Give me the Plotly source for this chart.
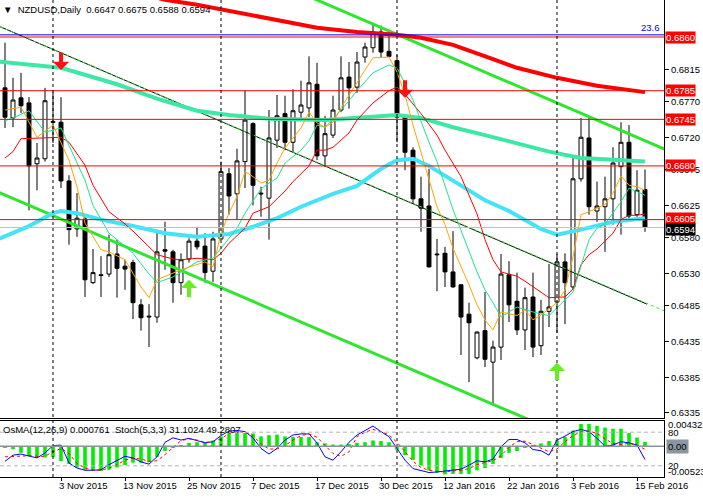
import plotly.graph_objects as go

# daily bars 23 Oct 2015 .. 16 Feb 2016, plotted by bar number
bars = list(range(81))
opens = [0.6789, 0.6747, 0.6775, 0.6768, 0.6683, 0.6690, 0.6742, 0.6741, 0.6659, 0.6592,
         0.6606, 0.6517, 0.6528, 0.6529, 0.6557, 0.6540, 0.6545, 0.6486, 0.6469, 0.6469,
         0.6563, 0.6560, 0.6517, 0.6550, 0.6575, 0.6568, 0.6533, 0.6578, 0.6669, 0.6641,
         0.6686, 0.6739, 0.6642, 0.6635, 0.6716, 0.6753, 0.6713, 0.6755, 0.6761, 0.6794,
         0.6694, 0.6723, 0.6758, 0.6804, 0.6790, 0.6832, 0.6845, 0.6867, 0.6840, 0.6827,
         0.6750, 0.6702, 0.6634, 0.6624, 0.6557, 0.6558, 0.6532, 0.6514, 0.6473, 0.6412,
         0.6450, 0.6406, 0.6427, 0.6528, 0.6491, 0.6451, 0.6497, 0.6429, 0.6477, 0.6490,
         0.6546, 0.6511, 0.6662, 0.6719, 0.6617, 0.6623, 0.6634, 0.6679, 0.6713, 0.6612,
         0.6647]
highs = [0.6852, 0.6803, 0.6810, 0.6776, 0.6712, 0.6789, 0.6783, 0.6776, 0.6667, 0.6642,
         0.6609, 0.6564, 0.6554, 0.6584, 0.6577, 0.6549, 0.6549, 0.6494, 0.6487, 0.6591,
         0.6602, 0.6563, 0.6558, 0.6579, 0.6595, 0.6586, 0.6588, 0.6686, 0.6677, 0.6704,
         0.6785, 0.6741, 0.6651, 0.6758, 0.6779, 0.6778, 0.6787, 0.6799, 0.6833, 0.6824,
         0.6750, 0.6778, 0.6833, 0.6825, 0.6839, 0.6852, 0.6880, 0.6876, 0.6870, 0.6835,
         0.6751, 0.6706, 0.6665, 0.6676, 0.6578, 0.6567, 0.6589, 0.6515, 0.6489, 0.6449,
         0.6504, 0.6436, 0.6557, 0.6547, 0.6531, 0.6510, 0.6531, 0.6493, 0.6543, 0.6557,
         0.6558, 0.6695, 0.6747, 0.6747, 0.6658, 0.6665, 0.6706, 0.6741, 0.6737, 0.6674,
         0.6675]
lows = [0.6733, 0.6734, 0.6754, 0.6618, 0.6646, 0.6686, 0.6712, 0.6649, 0.6570, 0.6581,
        0.6497, 0.6515, 0.6497, 0.6525, 0.6496, 0.6507, 0.6466, 0.6450, 0.6427, 0.6461,
        0.6535, 0.6489, 0.6500, 0.6545, 0.6563, 0.6517, 0.6518, 0.6577, 0.6612, 0.6605,
        0.6649, 0.6625, 0.6609, 0.6577, 0.6705, 0.6702, 0.6699, 0.6747, 0.6748, 0.6688,
        0.6679, 0.6719, 0.6755, 0.6760, 0.6782, 0.6824, 0.6838, 0.6831, 0.6832, 0.6713,
        0.6674, 0.6627, 0.6588, 0.6538, 0.6505, 0.6511, 0.6510, 0.6416, 0.6378, 0.6410,
        0.6399, 0.6348, 0.6409, 0.6462, 0.6444, 0.6423, 0.6413, 0.6416, 0.6455, 0.6447,
        0.6459, 0.6507, 0.6658, 0.6612, 0.6602, 0.6560, 0.6598, 0.6584, 0.6605, 0.6609,
        0.6588]
closes = [0.6748, 0.6772, 0.6764, 0.6680, 0.6691, 0.6771, 0.6741, 0.6659, 0.6591, 0.6607,
          0.6521, 0.6531, 0.6527, 0.6556, 0.6537, 0.6536, 0.6489, 0.6468, 0.6470, 0.6560,
          0.6561, 0.6517, 0.6549, 0.6575, 0.6567, 0.6531, 0.6578, 0.6672, 0.6638, 0.6687,
          0.6744, 0.6653, 0.6641, 0.6719, 0.6750, 0.6713, 0.6757, 0.6765, 0.6796, 0.6694,
          0.6725, 0.6758, 0.6803, 0.6789, 0.6825, 0.6846, 0.6867, 0.6839, 0.6833, 0.6748,
          0.6699, 0.6634, 0.6621, 0.6539, 0.6556, 0.6532, 0.6511, 0.6469, 0.6461, 0.6448,
          0.6410, 0.6427, 0.6529, 0.6486, 0.6451, 0.6496, 0.6427, 0.6477, 0.6483, 0.6546,
          0.6517, 0.6662, 0.6720, 0.6623, 0.6624, 0.6634, 0.6684, 0.6713, 0.6610, 0.6646,
          0.6594]

# moving averages (bar number, price)
ma_slow_x = [14, 20, 24, 29, 34, 39, 44, 49, 52, 56, 61, 64, 69, 74, 80]
ma_slow_y = [0.6929, 0.6912, 0.6905, 0.6894, 0.6884, 0.6873, 0.6867, 0.6863, 0.6859, 0.6849,
             0.6829, 0.6817, 0.6803, 0.6792, 0.6783]
ma_mid_x = [-1, 0, 7, 14, 19, 24, 28, 33, 40, 45, 49, 52, 56, 60, 64, 68, 72, 76, 80]
ma_mid_y = [0.6826, 0.6825, 0.6817, 0.6794, 0.6774, 0.6757, 0.6751, 0.6746, 0.6744, 0.6748,
            0.6751, 0.6747, 0.6734, 0.6723, 0.6712, 0.6700, 0.6691, 0.6688, 0.6686]
ma_50_x = [-1, 3, 6, 7, 9, 12, 16, 20, 24, 28, 31, 34, 37, 41, 44, 47, 49, 51, 53, 56, 60,
           63, 67, 69, 72, 76, 80]
ma_50_y = [0.6577, 0.6596, 0.6614, 0.6617, 0.6614, 0.6605, 0.6596, 0.6586, 0.6581, 0.6585,
           0.6595, 0.6607, 0.6623, 0.6641, 0.6652, 0.6676, 0.6688, 0.6690, 0.6680, 0.6660,
           0.6632, 0.6617, 0.6592, 0.6584, 0.6591, 0.6602, 0.6607]
fast_x = [0, 2, 4, 6, 8, 9, 10, 12, 13, 15, 17, 18, 19, 21, 22, 25, 26, 27, 28, 29, 30, 31,
          32, 33, 34, 35, 36, 37, 38, 39, 40, 41, 42, 43, 45, 46, 48, 49, 50, 51, 53, 54, 55,
          56, 58, 59, 60, 61, 62, 64, 65, 66, 67, 69, 70, 71, 72, 73, 75, 76, 77, 78, 79, 80]
fast_y = [0.6758, 0.6762, 0.6720, 0.6737, 0.6688, 0.6651, 0.6600, 0.6563, 0.6560, 0.6549,
          0.6511, 0.6496, 0.6521, 0.6531, 0.6535, 0.6546, 0.6539, 0.6586, 0.6614, 0.6637,
          0.6672, 0.6665, 0.6656, 0.6660, 0.6684, 0.6705, 0.6719, 0.6733, 0.6755, 0.6740,
          0.6734, 0.6741, 0.6761, 0.6779, 0.6814, 0.6831, 0.6832, 0.6811, 0.6779, 0.6737,
          0.6660, 0.6623, 0.6598, 0.6565, 0.6514, 0.6486, 0.6465, 0.6451, 0.6476, 0.6471,
          0.6479, 0.6465, 0.6472, 0.6489, 0.6507, 0.6553, 0.6612, 0.6616, 0.6626, 0.6642,
          0.6666, 0.6653, 0.6651, 0.6646]
med_x = [0, 1, 3, 5, 7, 8, 10, 11, 13, 14, 16, 18, 19, 21, 22, 24, 26, 28, 29, 30, 32, 33,
         34, 35, 37, 38, 39, 40, 41, 43, 44, 46, 48, 49, 50, 51, 53, 54, 56, 58, 59, 60, 61,
         62, 64, 66, 68, 69, 70, 71, 72, 73, 74, 75, 77, 78, 79, 80]
med_y = [0.6743, 0.6747, 0.6757, 0.6727, 0.6733, 0.6709, 0.6660, 0.6625, 0.6586, 0.6577,
         0.6558, 0.6529, 0.6517, 0.6525, 0.6532, 0.6546, 0.6551, 0.6579, 0.6593, 0.6614,
         0.6648, 0.6656, 0.6663, 0.6684, 0.6702, 0.6715, 0.6737, 0.6734, 0.6745, 0.6771,
         0.6785, 0.6810, 0.6821, 0.6817, 0.6794, 0.6772, 0.6713, 0.6686, 0.6619, 0.6560,
         0.6532, 0.6507, 0.6489, 0.6469, 0.6483, 0.6476, 0.6471, 0.6482, 0.6493, 0.6504,
         0.6540, 0.6577, 0.6593, 0.6599, 0.6630, 0.6649, 0.6644, 0.6639]
slow_x = [0, 1, 2, 4, 6, 7, 8, 10, 11, 13, 15, 16, 18, 19, 21, 22, 24, 26, 27, 28, 30, 31,
          33, 35, 36, 38, 39, 40, 41, 43, 44, 46, 48, 49, 50, 52, 54, 55, 57, 58, 59, 60, 61,
          62, 64, 65, 67, 68, 70, 71, 72, 73, 74, 76, 77, 78, 79, 80]
slow_y = [0.6691, 0.6700, 0.6718, 0.6719, 0.6719, 0.6720, 0.6713, 0.6681, 0.6653, 0.6616,
          0.6599, 0.6589, 0.6567, 0.6556, 0.6550, 0.6549, 0.6551, 0.6549, 0.6558, 0.6572,
          0.6593, 0.6614, 0.6623, 0.6645, 0.6658, 0.6680, 0.6702, 0.6702, 0.6706, 0.6726,
          0.6744, 0.6768, 0.6785, 0.6790, 0.6780, 0.6753, 0.6723, 0.6702, 0.6665, 0.6639,
          0.6613, 0.6577, 0.6549, 0.6532, 0.6526, 0.6519, 0.6503, 0.6496, 0.6497, 0.6508,
          0.6542, 0.6556, 0.6564, 0.6586, 0.6605, 0.6611, 0.6611, 0.6613]

# trend channel end points (bar number, price)
channel_low = ([-2, 70], [0.6649, 0.6304])
channel_high = ([36, 84], [0.6926, 0.6696])
mid_trend = ([-2, 80.25], [0.6881, 0.6487])
mid_trend_dots = ([-2, 84], [0.6881, 0.6470])

# horizontal levels
red_levels = [0.6860, 0.6785, 0.6745, 0.6680, 0.6605]
fibo_level = 0.6863
bid_price = 0.6594

# signal arrows: bar number, tip price
sell_arrows = ([7, 50], [0.6814, 0.6775])
buy_arrows = ([23, 69], [0.6521, 0.6405])

# month separators (first bar of Nov, Dec, Jan, Feb)
separators = [6, 27, 49, 69]

# oscillators
osma = [-0.0002, -0.0005, -0.0011, -0.0017, -0.0019, -0.0019, -0.0018, -0.0025, -0.0030, -0.0036,
        -0.0040, -0.0042, -0.0042, -0.0040, -0.0036, -0.0032, -0.0028, -0.0028, -0.0027, -0.0018,
        -0.0008, -0.0003, 0.0001, 0.0006, 0.0007, 0.0007, 0.0010, 0.0017, 0.0022, 0.0023,
        0.0023, 0.0022, 0.0017, 0.0019, 0.0020, 0.0017, 0.0016, 0.0016, 0.0016, 0.0007,
        0.0005, 0.0003, 0.0003, 0.0004, 0.0006, 0.0007, 0.0010, 0.0009, 0.0007, -0.0006,
        -0.0015, -0.0023, -0.0032, -0.0041, -0.0045, -0.0048, -0.0047, -0.0047, -0.0047, -0.0041,
        -0.0037, -0.0030, -0.0020, -0.0011, -0.0008, -0.0002, 0.0001, 0.0005, 0.0009, 0.0010,
        0.0016, 0.0027, 0.0038, 0.0038, 0.0035, 0.0032, 0.0030, 0.0030, 0.0023, 0.0015,
        0.000761]
stoch_main = [28, 39, 41, 37, 34, 43, 56, 57, 25, 16, 12, 12, 13, 22, 30, 37, 34, 27, 23, 36,
              62, 70, 66, 69, 65, 61, 63, 74, 82, 83, 81, 70, 51, 41, 51, 66, 75, 77, 77, 61,
              36, 30, 45, 62, 75, 83, 91, 81, 72, 51, 30, 15, 11, 8, 9, 11, 12, 14, 21, 29,
              27, 32, 54, 67, 67, 61, 49, 47, 39, 66, 73, 81, 85, 81, 69, 55, 57, 63, 61, 57,
              31.1]
stoch_signal = [36, 37, 38, 38, 37, 37, 45, 51, 42, 24, 16, 12, 12, 16, 22, 30, 34, 32, 28, 29,
                40, 53, 65, 68, 66, 62, 63, 68, 78, 81, 80, 74, 59, 50, 50, 56, 66, 74, 77, 71,
                56, 42, 37, 45, 72, 80, 85, 81, 75, 62, 45, 28, 17, 12, 10, 9, 11, 12, 15, 22,
                26, 29, 38, 53, 63, 64, 58, 52, 45, 50, 63, 74, 81, 82, 78, 68, 60, 58, 60, 57,
                49.3]

date_ticks = [7, 15, 23, 31, 39, 47, 55, 63, 71, 79]
date_labels = ["3 Nov 2015", "13 Nov 2015", "25 Nov 2015", "7 Dec 2015", "17 Dec 2015",
               "30 Dec 2015", "12 Jan 2016", "22 Jan 2016", "3 Feb 2016", "15 Feb 2016"]
price_ticks = [0.6815, 0.6770, 0.6720, 0.6675, 0.6625, 0.6580, 0.6530, 0.6485, 0.6435,
               0.6385, 0.6335]

FONT = "Liberation Sans"

fig = go.Figure()

fig.add_trace(go.Candlestick(
    x=bars, open=opens, high=highs, low=lows, close=closes,
    increasing=dict(line=dict(color="black", width=1), fillcolor="white"),
    decreasing=dict(line=dict(color="black", width=1), fillcolor="black"),
    whiskerwidth=0, showlegend=False, hoverinfo="skip"))

def line(x, y, color, width, dash="solid", ax=("x", "y")):
    fig.add_trace(go.Scatter(x=x, y=y, mode="lines", line=dict(color=color, width=width, dash=dash),
                             xaxis=ax[0], yaxis=ax[1], showlegend=False, hoverinfo="skip"))

line(*channel_low, "#2EE62E", 3)
line(*channel_high, "#2EE62E", 3)
line(*mid_trend, "black", 1)
line(*mid_trend_dots, "#2EE62E", 1, "dot")
line(ma_slow_x, ma_slow_y, "#FF0000", 4)
line(ma_mid_x, ma_mid_y, "#3DE8A6", 4)
line(ma_50_x, ma_50_y, "#45E3F5", 4)
line(slow_x, slow_y, "#FF0000", 1)
line(med_x, med_y, "#19E68C", 1)
line(fast_x, fast_y, "#FFA500", 1)

# lower window
fig.add_trace(go.Bar(x=bars, y=osma, width=0.45, marker=dict(color="#00EE00", line=dict(width=0)),
                     xaxis="x2", yaxis="y3", showlegend=False, hoverinfo="skip"))
line(bars, stoch_main, "#0000FF", 1, ax=("x2", "y4"))
line(bars, stoch_signal, "#FF0000", 1, "dot", ax=("x2", "y4"))

shapes = []
for lv in red_levels:
    shapes.append(dict(type="line", xref="paper", x0=0, x1=1, yref="y", y0=lv, y1=lv,
                       line=dict(color="#FF0000", width=1)))
shapes.append(dict(type="line", xref="paper", x0=0, x1=1, yref="y", y0=fibo_level, y1=fibo_level,
                   line=dict(color="#0000FF", width=1)))
shapes.append(dict(type="line", xref="paper", x0=0, x1=1, yref="y", y0=bid_price, y1=bid_price,
                   line=dict(color="#C0C0C0", width=1)))
for s in separators:
    shapes.append(dict(type="line", xref="x", x0=s, x1=s, yref="paper", y0=0, y1=1,
                       line=dict(color="black", width=1, dash="3px,3px")))
for lv in [80, 20]:
    shapes.append(dict(type="line", xref="paper", x0=0, x1=1, yref="y4", y0=lv, y1=lv,
                       line=dict(color="#B4B4B4", width=1, dash="4px,3px")))
shapes.append(dict(type="line", xref="paper", x0=0, x1=1, yref="y3", y0=0, y1=0,
                   line=dict(color="#8A929A", width=1.5)))

ann = []
for lv in red_levels:
    ann.append(dict(xref="paper", x=1, xanchor="left", xshift=1, yref="y", y=lv, yanchor="middle",
                    yshift=1 if lv == 0.6605 else 0,
                    text="%.4f" % lv, showarrow=False, bgcolor="#FF0000", borderpad=0,
                    font=dict(family=FONT, size=9.5, color="white")))
ann.append(dict(xref="paper", x=1, xanchor="left", xshift=1, yref="y", y=bid_price, yanchor="middle",
                yshift=-2, text="%.4f" % bid_price, showarrow=False, bgcolor="black", borderpad=0,
                font=dict(family=FONT, size=9.5, color="white")))
ann.append(dict(xref="paper", x=1, xanchor="right", xshift=-2, yref="y", y=fibo_level, yanchor="bottom",
                text="23.6", showarrow=False, font=dict(family=FONT, size=9.5, color="#0000FF")))
ann.append(dict(xref="paper", x=0, xanchor="left", xshift=1, yref="paper", y=1, yanchor="top", yshift=-2,
                text="▼  NZDUSD,Daily  0.6647 0.6675 0.6588 0.6594", showarrow=False,
                font=dict(family=FONT, size=9.5, color="black")))
ann.append(dict(xref="paper", x=0, xanchor="left", xshift=1, yref="y4", y=100, yanchor="top", yshift=-1,
                text="OsMA(12,26,9) 0.000761  Stoch(5,3,3) 31.1024 49.2807", showarrow=False,
                font=dict(family=FONT, size=9.5, color="black")))
for txt, ref, val, bg in [("0.004321", "y3", 0.004321 - 0.0006, None), ("80", "y4", 80, None),
                          ("0.00", "y3", 0, "#8A96A0"), ("20", "y4", 20, None),
                          ("-0.005231", "y3", -0.005231 + 0.0009, None)]:
    a = dict(xref="paper", x=1, xanchor="left", xshift=2, yref=ref, y=val, yanchor="middle",
             text=txt, showarrow=False, font=dict(family=FONT, size=9.5, color="black"))
    if bg:
        a["bgcolor"] = bg
    ann.append(a)
ann.append(dict(xref="x", x=-1, xanchor="left", xshift=-3, yref="paper", y=0, yanchor="top", yshift=-4,
                text="22 Oct 2015", showarrow=False, font=dict(family=FONT, size=9.5, color="black")))
for bx, tip in zip(*sell_arrows):
    ann.append(dict(xref="x", x=bx, yref="y", y=tip, ax=0, ay=-19, showarrow=True, text="",
                    arrowhead=1, arrowsize=0.68, arrowwidth=4, arrowcolor="#FF1010"))
for bx, tip in zip(*buy_arrows):
    ann.append(dict(xref="x", x=bx, yref="y", y=tip, ax=0, ay=19, showarrow=True, text="",
                    arrowhead=1, arrowsize=0.68, arrowwidth=4, arrowcolor="#66EE22"))

fig.update_layout(
    width=703, height=499, autosize=False,
    margin=dict(l=0, r=39, t=0, b=22),
    paper_bgcolor="white", plot_bgcolor="white",
    font=dict(family=FONT, size=9.5, color="black"),
    showlegend=False, shapes=shapes, annotations=ann,
    xaxis=dict(domain=[0, 1], range=[-0.625, 82.375], anchor="y", showticklabels=False,
               showgrid=False, zeroline=False, showline=True, mirror=True, linecolor="black",
               linewidth=1, rangeslider=dict(visible=False), fixedrange=True),
    yaxis=dict(domain=[0.1237, 1], range=[0.632801, 0.691166], side="right", anchor="x",
               tickvals=price_ticks, ticktext=["%.4f" % v for v in price_ticks],
               ticks="outside", ticklen=4, tickcolor="black", showgrid=False, zeroline=False,
               showline=True, mirror=True, linecolor="black", linewidth=1),
    xaxis2=dict(domain=[0, 1], matches="x", anchor="y3", tickvals=date_ticks, ticktext=date_labels,
                ticks="outside", ticklen=3, tickcolor="black", ticklabelposition="outside right",
                ticklabelshift=-3, showgrid=False, zeroline=False, showline=True, mirror=True,
                linecolor="black", linewidth=1),
    yaxis3=dict(domain=[0, 0.1174], range=[-0.005231, 0.004321], anchor="x2", side="right",
                showticklabels=False, ticks="", showgrid=False, zeroline=False,
                showline=True, mirror=True, linecolor="black", linewidth=1),
    yaxis4=dict(overlaying="y3", range=[0, 100], anchor="x2", visible=False),
)

# page body has a default 8px margin; remove it so the figure sits at the window corner
fig.write_html("out.html", config={"displayModeBar": False},
               post_script="document.body.style.margin='0';")
